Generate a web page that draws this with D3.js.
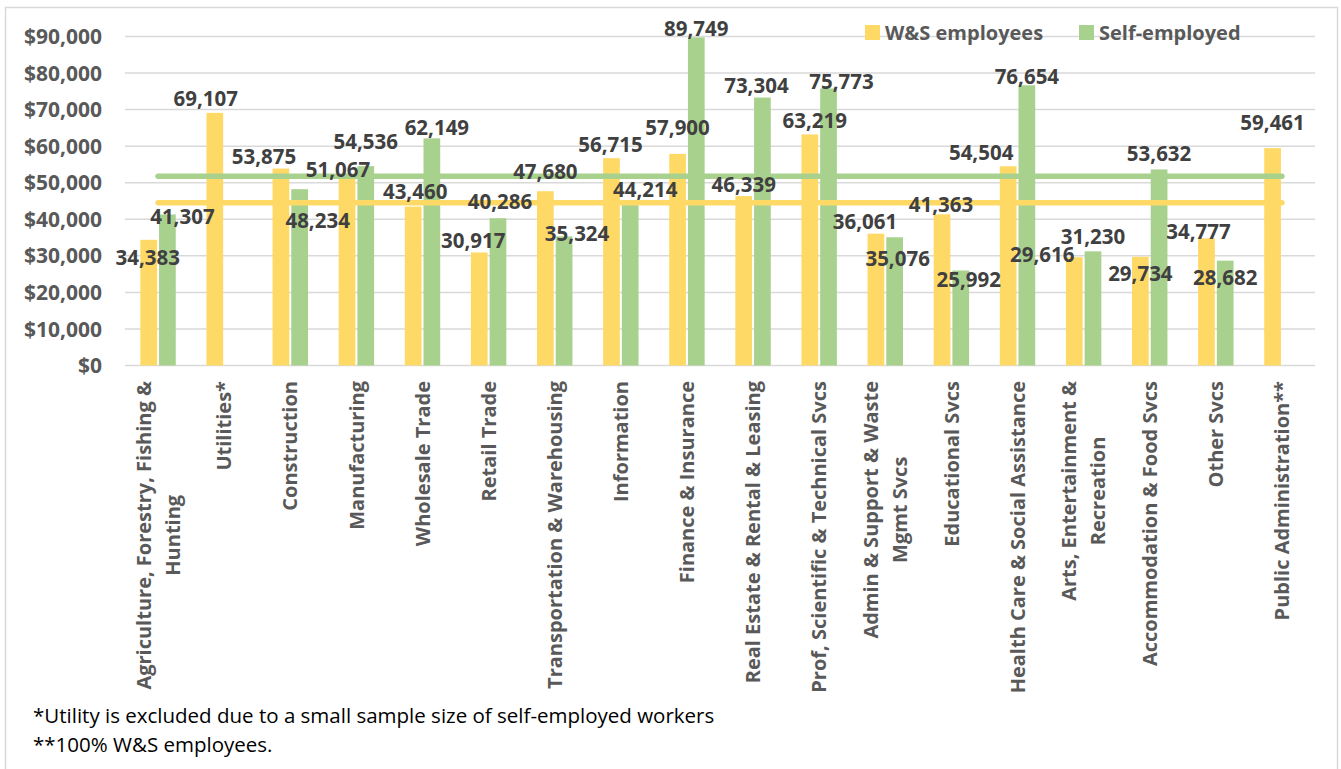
<!DOCTYPE html>
<html>
<head>
<meta charset="utf-8">
<script src="https://cdn.jsdelivr.net/npm/d3@7/dist/d3.min.js"></script>
<style>
  html, body { margin: 0; padding: 0; background: #fff; }
  svg { display: block; }
  text { font-family: "Open Sans", "DejaVu Sans", sans-serif; }
</style>
</head>
<body>
<svg id="chart" width="1341" height="769"></svg>
<script>
// Industries (line breaks mark wrapped labels)
const industries = [
  "Agriculture, Forestry, Fishing &\nHunting",
  "Utilities*",
  "Construction",
  "Manufacturing",
  "Wholesale Trade",
  "Retail Trade",
  "Transportation & Warehousing",
  "Information",
  "Finance & Insurance",
  "Real Estate & Rental & Leasing",
  "Prof, Scientific & Technical Svcs",
  "Admin & Support & Waste\nMgmt Svcs",
  "Educational Svcs",
  "Health Care & Social Assistance",
  "Arts, Entertainment &\nRecreation",
  "Accommodation & Food Svcs",
  "Other Svcs",
  "Public Administration**"
];

const seriesNames = ["W&S employees", "Self-employed"];

// Average earnings, wage & salary employees
const wsEarnings = [34383, 69107, 53875, 51067, 43460, 30917, 47680, 56715, 57900,
                    46339, 63219, 36061, 41363, 54504, 29616, 29734, 34777, 59461];

// Average earnings, self-employed (no value for Utilities and Public Administration)
const seEarnings = [41307, null, 48234, 54536, 62149, 40286, 35324, 44214, 89749,
                    73304, 75773, 35076, 25992, 76654, 31230, 53632, 28682, null];

// All-industry averages drawn as horizontal reference lines
const overallAverage = [44500, 51800];

const yTicks = [0, 10000, 20000, 30000, 40000, 50000, 60000, 70000, 80000, 90000];

const footnotes = [
  "*Utility is excluded due to a small sample size of self-employed workers",
  "**100% W&S employees."
];

// Hand-placed value-label nudges [dx, dy] from each bar's top centre
const wsLabelNudge = [[-1, 18], [-9, -14], [-17, -12], [-9, -9], [2, -15], [-6, -12],
                      [0, -20], [-1, -14], [0, -26], [0, -11], [5, -14], [-11, -12],
                      [-1, -10], [-27, -14], [-32, -3], [0, 17], [-8, -7], [0, -26]];
const seLabelNudge = [[15, 2], null, [18, 31], [0, -25], [5, -11], [2, -17],
                      [13, -3], [15, -14], [0, -9], [-6, -12], [13, -7], [3, 21],
                      [8, 9], [0, -9], [0, -15], [0, -16], [0, 17], null];

const colors = ["#FFD966", "#A9D18E"];
const gridColor = "#D9D9D9";
const axisText = "#595959";
const labelText = "#404040";

const svg = d3.select("#chart");
const W = 1341, H = 769;

// Outer chart frame
svg.append("rect")
  .attr("x", 5.5).attr("y", 7.5)
  .attr("width", W - 9).attr("height", H + 10)
  .attr("fill", "#fff")
  .attr("stroke", gridColor).attr("stroke-width", 1.5);

const plot = { left: 125, right: 1315, top: 36.5, bottom: 365.5 };

const x0 = d3.scaleBand()
  .domain(d3.range(industries.length))
  .range([plot.left, plot.right])
  .paddingInner(0).paddingOuter(0);

const x1 = d3.scaleBand()
  .domain([0, 1])
  .range([0, x0.bandwidth()])
  .paddingInner(0.107).paddingOuter(0.82);

const y = d3.scaleLinear()
  .domain([0, 90000])
  .range([plot.bottom, plot.top]);

// Gridlines
svg.append("g")
  .selectAll("line")
  .data(yTicks)
  .join("line")
  .attr("x1", plot.left).attr("x2", plot.right)
  .attr("y1", d => y(d)).attr("y2", d => y(d))
  .attr("stroke", gridColor).attr("stroke-width", 1.5);

// Y axis labels
const fmtDollar = d3.format("$,");
svg.append("g")
  .selectAll("text")
  .data(yTicks)
  .join("text")
  .attr("x", 102)
  .attr("y", d => y(d))
  .attr("dy", "0.36em")
  .attr("text-anchor", "end")
  .attr("font-size", 21)
  .attr("font-weight", 700)
  .attr("fill", axisText)
  .text(d => fmtDollar(d));

// Bars
const series = [wsEarnings, seEarnings];
const barData = [];
series.forEach((vals, s) => {
  vals.forEach((v, i) => {
    if (v != null) barData.push({ i, s, v });
  });
});

svg.append("g")
  .selectAll("rect")
  .data(barData)
  .join("rect")
  .attr("x", d => x0(d.i) + x1(d.s))
  .attr("y", d => y(d.v))
  .attr("width", x1.bandwidth())
  .attr("height", d => y(0) - y(d.v))
  .attr("fill", d => colors[d.s]);

// Average reference lines spanning first to last category centre
const firstC = x0(0) + x0.bandwidth() / 2;
const lastC = x0(industries.length - 1) + x0.bandwidth() / 2;
svg.append("g")
  .selectAll("line")
  .data(overallAverage)
  .join("line")
  .attr("x1", firstC).attr("x2", lastC)
  .attr("y1", d => y(d)).attr("y2", d => y(d))
  .attr("stroke", (d, s) => colors[s])
  .attr("stroke-width", 5.5)
  .attr("stroke-linecap", "round");

// Value labels
const fmtNum = d3.format(",");
const nudges = [wsLabelNudge, seLabelNudge];
svg.append("g")
  .selectAll("text")
  .data(barData)
  .join("text")
  .attr("x", d => x0(d.i) + x1(d.s) + x1.bandwidth() / 2 + nudges[d.s][d.i][0])
  .attr("y", d => y(d.v) + nudges[d.s][d.i][1])
  .attr("dy", "0.36em")
  .attr("text-anchor", "middle")
  .attr("font-size", 20.5)
  .attr("font-weight", 700)
  .attr("fill", labelText)
  .text(d => fmtNum(d.v));

// Category labels, rotated, wrapped lines centred on each other
const catLineH = 29;
const catTop = 381;
const catG = svg.append("g");
industries.forEach((name, i) => {
  const lines = name.split("\n");
  const cx = x0(i) + x0.bandwidth() / 2;
  const g = catG.append("g")
    .attr("transform", `translate(${cx},${catTop}) rotate(-90)`);
  const texts = lines.map((ln, k) => g.append("text")
    .attr("y", (k - (lines.length - 1) / 2) * catLineH)
    .attr("dy", "0.36em")
    .attr("text-anchor", "middle")
    .attr("font-size", 20)
    .attr("font-weight", 700)
    .attr("fill", axisText)
    .text(ln));
  const widest = d3.max(texts, t => t.node().getComputedTextLength());
  texts.forEach(t => t.attr("x", -widest / 2));
});

// Legend
const legend = svg.append("g");
const legendX = [865, 1079];
seriesNames.forEach((nm, s) => {
  legend.append("rect")
    .attr("x", legendX[s]).attr("y", 25)
    .attr("width", 15).attr("height", 15)
    .attr("fill", colors[s]);
  legend.append("text")
    .attr("x", legendX[s] + 20).attr("y", 32.5)
    .attr("dy", "0.36em")
    .attr("font-size", 20)
    .attr("font-weight", 700)
    .attr("fill", axisText)
    .text(nm);
});

// Footnotes
svg.append("g")
  .selectAll("text")
  .data(footnotes)
  .join("text")
  .attr("x", 33)
  .attr("y", (d, k) => 716 + k * 29)
  .attr("dy", "0.36em")
  .attr("font-family", "Lato, sans-serif")
  .attr("font-size", 20.5)
  .attr("fill", "#000")
  .text(d => d);
</script>
</body>
</html>
